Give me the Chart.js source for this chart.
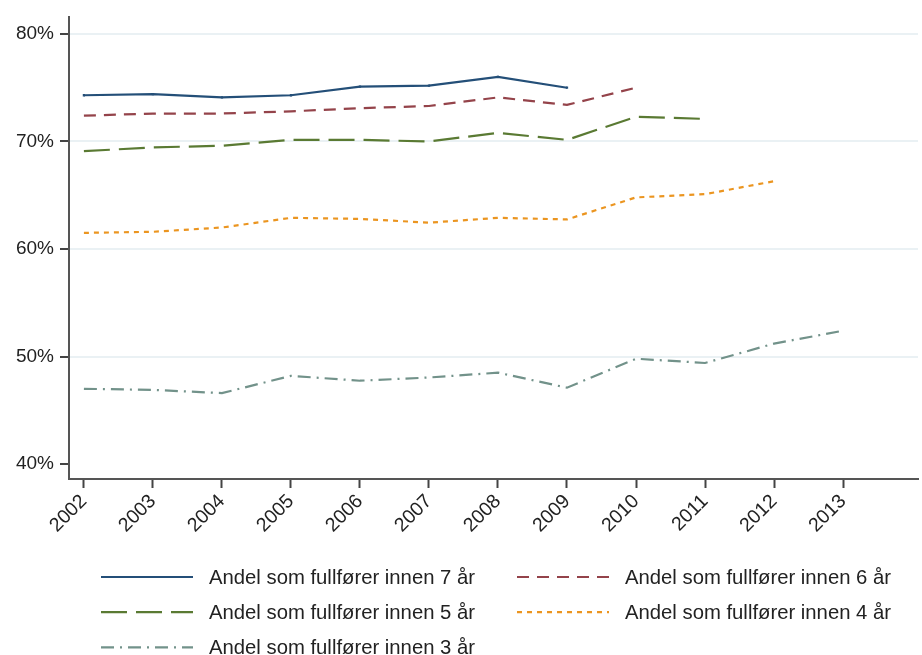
<!DOCTYPE html>
<html>
<head>
<meta charset="utf-8">
<script src="https://cdn.jsdelivr.net/npm/chart.js@4.4.1/dist/chart.umd.min.js"></script>
<style>
  html, body { margin: 0; padding: 0; background: #ffffff; overflow: hidden; }
  canvas { display: block; }
</style>
</head>
<body>
<canvas id="c" width="922" height="655" style="width:922px;height:655px"></canvas>
<script>
// ---- data ----
const years = [2002, 2003, 2004, 2005, 2006, 2007, 2008, 2009, 2010, 2011, 2012, 2013];
const yTicks = [40, 50, 60, 70, 80];
const seriesLabels = [
  'Andel som fullfører innen 7 år',
  'Andel som fullfører innen 6 år',
  'Andel som fullfører innen 5 år',
  'Andel som fullfører innen 4 år',
  'Andel som fullfører innen 3 år'
];
const within7 = [74.3, 74.4, 74.1, 74.3, 75.1, 75.2, 76.0, 75.0, null, null, null, null];
const within6 = [72.4, 72.6, 72.6, 72.8, 73.1, 73.3, 74.1, 73.4, 75.0, null, null, null];
const within5 = [69.1, 69.45, 69.6, 70.15, 70.15, 70.0, 70.8, 70.15, 72.3, 72.1, null, null];
const within4 = [61.5, 61.6, 62.0, 62.9, 62.8, 62.45, 62.9, 62.75, 64.8, 65.1, 66.3, null];
const within3 = [47.0, 46.9, 46.6, 48.2, 47.75, 48.05, 48.5, 47.1, 49.8, 49.4, 51.2, 52.4];

const FONT = '"Liberation Sans", Arial, Helvetica, sans-serif';
const TXT = '#222222';

function pts(arr) { return years.map((y, i) => ({ x: y, y: arr[i] })); }

const styles = [
  { color: '#244f78', dash: [], point: 1.6 },
  { color: '#94434a', dash: [12, 8], point: 0 },
  { color: '#5a7a33', dash: [26, 9], point: 0 },
  { color: '#eb9520', dash: [5, 5], point: 0 },
  { color: '#72928a', dash: [13, 6, 2, 6], point: 0 }
];
const values = [within7, within6, within5, within4, within3];

const datasets = values.map((arr, i) => ({
  label: seriesLabels[i],
  data: pts(arr),
  borderColor: styles[i].color,
  backgroundColor: styles[i].color,
  borderWidth: 2.2,
  borderDash: styles[i].dash,
  pointRadius: styles[i].point,
  pointStyle: 'rect',
  pointBorderWidth: 0,
  tension: 0,
  fill: false,
  spanGaps: false
}));

const legendPlugin = {
  id: 'stataLegend',
  afterDraw(chart) {
    const ctx = chart.ctx;
    const xs = chart.scales.x;
    const baseY = xs.bottom + 38;
    const rowH = 35.2;
    const colX = [101, 517];
    const sampleW = 92;
    chart.data.datasets.forEach((ds, i) => {
      const col = i % 2, row = Math.floor(i / 2);
      const x0 = colX[col];
      const y = baseY + row * rowH;
      ctx.save();
      ctx.strokeStyle = ds.borderColor;
      ctx.lineWidth = 2.2;
      ctx.setLineDash(ds.borderDash || []);
      ctx.beginPath();
      ctx.moveTo(x0, y);
      ctx.lineTo(x0 + sampleW, y);
      ctx.stroke();
      ctx.restore();
      ctx.save();
      ctx.fillStyle = TXT;
      ctx.font = '20.3px ' + FONT;
      ctx.textBaseline = 'middle';
      ctx.textAlign = 'left';
      ctx.fillText(ds.label, x0 + sampleW + 16, y + 1);
      ctx.restore();
    });
  }
};

new Chart(document.getElementById('c'), {
  type: 'line',
  data: { datasets },
  plugins: [legendPlugin],
  options: {
    responsive: false,
    maintainAspectRatio: false,
    devicePixelRatio: 1,
    animation: false,
    layout: { padding: { top: 14, right: 0, left: 0, bottom: 116 } },
    plugins: {
      legend: { display: false },
      tooltip: { enabled: false }
    },
    scales: {
      x: {
        type: 'linear',
        min: 2001.784,
        max: 2014.086,
        afterBuildTicks: (s) => { s.ticks = years.map(v => ({ value: v })); },
        afterFit: (s) => { s.height = 60; },
        ticks: {
          autoSkip: false,
          minRotation: 45,
          maxRotation: 45,
          padding: 2,
          color: TXT,
          font: { family: FONT, size: 19.5 },
          callback: (v) => String(v)
        },
        grid: {
          drawOnChartArea: false,
          drawTicks: true,
          tickLength: 9,
          tickColor: '#444444',
          tickWidth: 2
        },
        border: { display: true, color: '#555555', width: 2 }
      },
      y: {
        type: 'linear',
        min: 38.61,
        max: 81.54,
        afterBuildTicks: (s) => { s.ticks = yTicks.map(v => ({ value: v })); },
        afterFit: (s) => { s.width = 69; },
        ticks: {
          padding: 6,
          color: TXT,
          font: { family: FONT, size: 19 },
          callback: (v) => v + '%'
        },
        grid: {
          drawOnChartArea: true,
          drawTicks: true,
          tickLength: 9,
          tickColor: '#444444',
          tickWidth: 2,
          lineWidth: 2,
          color: (c) => (c.tick && c.tick.value === 40) ? 'rgba(0,0,0,0)' : '#eaf1f4'
        },
        border: { display: true, color: '#555555', width: 2 }
      }
    }
  }
});
</script>
</body>
</html>
